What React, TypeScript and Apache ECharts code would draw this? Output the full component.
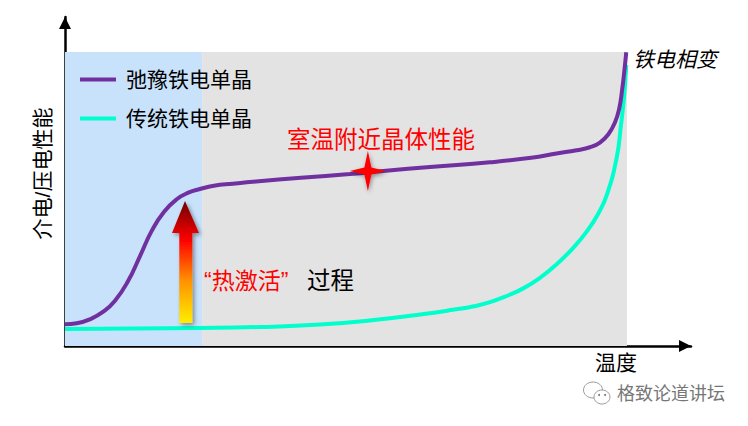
import React, { useEffect, useRef } from "react";
import * as echarts from "echarts";

const relaxorName = "弛豫铁电单晶";
const normalName = "传统铁电单晶";
const xName = "温度";
const yName = "介电/压电性能";

const relaxorCurve = [
  [0, 7.4], [2.08, 7.72], [4.45, 9.08], [6.81, 11.67], [8.9, 15.4], [11.2, 22], [13.35, 30.6],
  [15.5, 39.4], [17.6, 45.6], [19.88, 49.9], [21.94, 52.14],
  [24.02, 53.4], [26.5, 54.5], [29.89, 55.2], [34, 55.95], [42, 57.2], [50.71, 58.5], [57.12, 59.6],
  [64.95, 60.9], [75.62, 62.48], [83.33, 64.1], [87.49, 65.48], [91.05, 66.6],
  [93.42, 67.59], [95.2, 69.18], [96.67, 71.94], [97.86, 76.02], [98.63, 80.78], [99.16, 87.41],
  [99.52, 93.2], [99.88, 99.9],
];
const normalCurve = [
  [0, 5.8], [24.02, 6.12], [34.7, 6.46], [45.37, 7.31], [54.98, 8.84], [63.88, 10.9], [69, 12.3],
  [72.78, 13.5], [75.62, 14.9], [78.59, 17], [81.55, 19.6], [84.52, 23.2], [87.49, 27.8], [90.44, 33.4],
  [92.83, 38.9], [94.89, 45], [96.44, 51.5], [98.17, 64], [98.93, 75], [99.52, 85.4],
  [99.88, 95.6],
];
const roomTempPoint = [53.9, 59.5];
const activationEnd = 24.4;
const plotEnd = 100;

const FONT = '"Liberation Sans", "Noto Sans CJK SC", sans-serif';

function label(text: string, x: number, y: number, fill: string, size: number, extra: any = {}) {
  return {
    type: "text",
    x,
    y,
    z: 20,
    silent: true,
    style: { text, fill, fontSize: size, fontFamily: FONT, textAlign: "left", textVerticalAlign: "middle", ...extra },
  };
}

export default function App() {
  const ref = useRef<HTMLDivElement>(null);
  useEffect(() => {
    const chart = echarts.init(ref.current!, undefined, { renderer: "svg" });
    chart.setOption({
      animation: false,
      backgroundColor: "#ffffff",
      grid: { left: 65, right: 57, top: 17, bottom: 80 },
      legend: {
        left: 80,
        top: 69,
        padding: 0,
        orient: "vertical",
        itemWidth: 36,
        itemHeight: 4,
        itemGap: 18,
        icon: "rect",
        data: [relaxorName, normalName],
        textStyle: { fontSize: 21, fontFamily: FONT, color: "#000", padding: [0, 0, 0, 5] },
      },
      xAxis: {
        type: "value",
        min: 0,
        max: 111.4,
        name: xName,
        nameLocation: "end",
        nameGap: -54,
        nameTextStyle: { fontSize: 21, fontFamily: FONT, color: "#000", align: "right", verticalAlign: "top", padding: [6, 0, 0, 0] },
        splitLine: { show: false },
        axisTick: { show: false },
        axisLabel: { show: false },
        axisLine: { lineStyle: { color: "#000", width: 2.5 }, symbol: ["none", "triangle"], symbolSize: [12, 12], symbolOffset: [0, -6] },
      },
      yAxis: {
        type: "value",
        min: 0,
        max: 111.9,
        name: yName,
        nameLocation: "middle",
        nameGap: 12,
        nameTextStyle: { fontSize: 21, fontFamily: FONT, color: "#000", padding: [0, 0, 0, 16] },
        splitLine: { show: false },
        axisTick: { show: false },
        axisLabel: { show: false },
        axisLine: { lineStyle: { color: "#000", width: 2.5 }, symbol: ["none", "triangle"], symbolSize: [12, 12], symbolOffset: [0, -6] },
      },
      series: [
        {
          name: normalName,
          type: "line",
          data: normalCurve,
          smooth: 0.5,
          showSymbol: false,
          itemStyle: { color: "#00FFCC" },
          lineStyle: { color: "#00FFCC", width: 4, cap: "butt" },
          z: 3,
        },
        {
          name: relaxorName,
          type: "line",
          data: relaxorCurve,
          smooth: 0.5,
          showSymbol: false,
          itemStyle: { color: "#7030A0" },
          lineStyle: { color: "#7030A0", width: 4, cap: "butt" },
          z: 4,
          markArea: {
            silent: true,
            data: [
              [{ xAxis: 0, yAxis: 0, itemStyle: { color: "#C9E2FB" } }, { xAxis: activationEnd, yAxis: plotEnd }],
              [{ xAxis: activationEnd, yAxis: 0, itemStyle: { color: "#E3E3E3" } }, { xAxis: plotEnd, yAxis: plotEnd }],
            ],
          },
          markPoint: {
            silent: true,
            symbol: "path://M0,-20 L3.5,-3.5 L18,0 L3.5,3.5 L0,20 L-3.5,3.5 L-18,0 L-3.5,-3.5 Z",
            symbolSize: [36, 40],
            itemStyle: { color: "#FF0000", shadowColor: "rgba(0,0,0,0.4)", shadowBlur: 4, shadowOffsetX: 1, shadowOffsetY: 2 },
            label: { show: false },
            data: [{ coord: roomTempPoint }],
          },
        },
      ],
      graphic: [
        {
          type: "polygon",
          silent: true,
          z: 10,
          shape: { points: [[185, 201], [199, 233], [192.3, 233], [192.3, 323], [179.3, 323], [179.3, 233], [172, 233]] },
          style: {
            fill: new echarts.graphic.LinearGradient(0, 0, 0, 1, [
              { offset: 0, color: "#6E0000" },
              { offset: 0.32, color: "#FF0000" },
              { offset: 0.65, color: "#FF9000" },
              { offset: 1, color: "#FFEE00" },
            ]),
            shadowColor: "rgba(0,0,0,0.4)",
            shadowBlur: 4,
            shadowOffsetX: 2,
            shadowOffsetY: 2,
          },
        },
        label("室温附近晶体性能", 287, 140, "#FF0000", 23.5),
        label("“热激活”", 204, 281, "#FF0000", 23),
        label("过程", 307, 281, "#000000", 23.5),
        label("铁电相变", 633, 59, "#000000", 21, { fontStyle: "italic" }),
        label("格致论道讲坛", 617, 394, "#777777", 18),
        { type: "ellipse", silent: true, z: 20, shape: { cx: 593, cy: 390, rx: 9.5, ry: 8 }, style: { fill: "none", stroke: "#999", lineWidth: 1 } },
        { type: "ellipse", silent: true, z: 21, shape: { cx: 602, cy: 397, rx: 8, ry: 7 }, style: { fill: "#fff", stroke: "#999", lineWidth: 1 } },
        { type: "circle", silent: true, z: 22, shape: { cx: 599, cy: 395, r: 1 }, style: { fill: "#777" } },
        { type: "circle", silent: true, z: 22, shape: { cx: 605, cy: 395, r: 1 }, style: { fill: "#777" } },
      ],
    });
    return () => chart.dispose();
  }, []);
  return <div ref={ref} style={{ position: "absolute", left: 0, top: 0, width: 748, height: 426 }} />;
}
